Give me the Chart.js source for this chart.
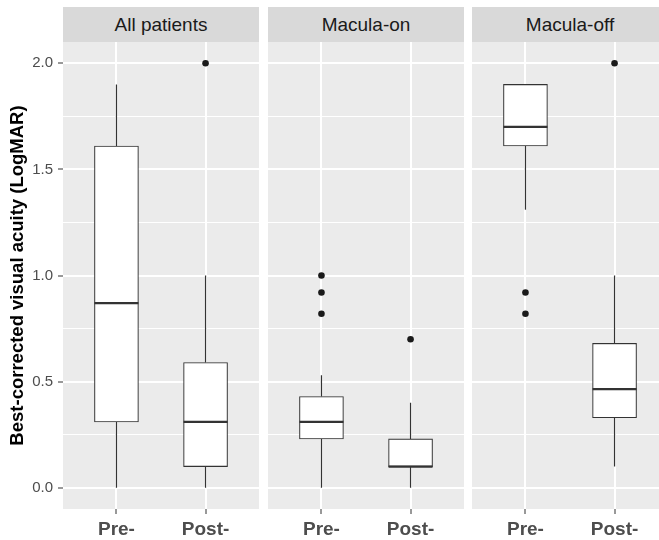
<!DOCTYPE html>
<html>
<head>
<meta charset="utf-8">
<script src="https://cdn.jsdelivr.net/npm/chart.js@4.4.1/dist/chart.umd.min.js"></script>
<style>
  html, body { margin: 0; padding: 0; overflow: hidden; }
  body { width: 659px; height: 540px; position: relative; background: #fff;
         font-family: "Liberation Sans", Arial, sans-serif; }
  .strip { position: absolute; top: 7px; height: 35px; width: 196px; background: #D9D9D9;
           color: #1A1A1A; font-size: 19px; line-height: 35px; text-align: center; }
  canvas { position: absolute; top: 42px; }
</style>
</head>
<body>
<div class="strip" id="strip0" style="left:63px"></div>
<div class="strip" id="strip1" style="left:268px"></div>
<div class="strip" id="strip2" style="left:472px"></div>
<canvas id="c0" width="259" height="498" style="left:0px"></canvas>
<canvas id="c1" width="196" height="498" style="left:268px"></canvas>
<canvas id="c2" width="196" height="498" style="left:472px"></canvas>
<script>
// facets and x categories
const panels = ['All patients', 'Macula-on', 'Macula-off'];
const timepoints = ['Pre-', 'Post-'];
const yLabelled = [0, 0.5, 1, 1.5, 2];

// box statistics, one row per panel, [Pre-, Post-]
const whiskerLow  = [[0, 0],       [0, 0],       [1.31, 0.10]];
const q1          = [[0.31, 0.10], [0.23, 0.10], [1.61, 0.33]];
const median      = [[0.87, 0.31], [0.31, 0.10], [1.70, 0.465]];
const q3          = [[1.61, 0.59], [0.43, 0.23], [1.90, 0.68]];
const whiskerHigh = [[1.90, 1.00], [0.53, 0.40], [1.90, 1.00]];
const outliers    = [[[], [2.0]], [[1.0, 0.92, 0.82], [0.70]], [[0.92, 0.82], [2.0]]];

const FONT = '"Liberation Sans", Arial, sans-serif';
Chart.defaults.font.family = FONT;

const boxLines = {
    id: 'boxLines',
    beforeDraw(chart) {
        const a = chart.chartArea;
        const c = chart.ctx;
        c.save();
        c.fillStyle = '#EBEBEB';
        c.fillRect(a.left, a.top, a.right - a.left, a.bottom - a.top);
        c.restore();
    },
    beforeDatasetsDraw(chart, args, opts) {
        const p = opts.panel;
        const y = chart.scales.y;
        const c = chart.ctx;
        const bars = chart.getDatasetMeta(0).data;
        c.save();
        c.strokeStyle = '#333333';
        c.lineWidth = 1.2;
        bars.forEach((bar, i) => {
            const x = bar.x;
            c.beginPath();
            c.moveTo(x, y.getPixelForValue(whiskerLow[p][i]));
            c.lineTo(x, y.getPixelForValue(q1[p][i]));
            c.moveTo(x, y.getPixelForValue(q3[p][i]));
            c.lineTo(x, y.getPixelForValue(whiskerHigh[p][i]));
            c.stroke();
        });
        c.restore();
    },
    afterDatasetsDraw(chart, args, opts) {
        const p = opts.panel;
        const y = chart.scales.y;
        const c = chart.ctx;
        const bars = chart.getDatasetMeta(0).data;
        c.save();
        c.strokeStyle = '#333333';
        c.lineWidth = 2.2;
        bars.forEach((bar, i) => {
            const yy = y.getPixelForValue(median[p][i]);
            c.beginPath();
            c.moveTo(bar.x - bar.width / 2, yy);
            c.lineTo(bar.x + bar.width / 2, yy);
            c.stroke();
        });
        c.restore();
    }
};

function makePanel(p) {
    const showY = p === 0;
    const points = [];
    outliers[p].forEach((vals, i) => vals.forEach(v => points.push({ x: i + 1, y: v })));

    document.getElementById('strip' + p).textContent = panels[p];

    new Chart(document.getElementById('c' + p), {
        type: 'bar',
        data: {
            datasets: [{
                type: 'bar',
                data: timepoints.map((t, i) => ({ x: i + 1, y: [q1[p][i], q3[p][i]] })),
                backgroundColor: '#FFFFFF',
                borderColor: '#333333',
                borderWidth: 1.1,
                borderSkipped: false,
                barThickness: 44,
                grouped: false
            }, {
                type: 'scatter',
                data: points,
                pointRadius: 3.3,
                pointBackgroundColor: '#1A1A1A',
                pointBorderWidth: 0,
                showLine: false
            }]
        },
        options: {
            responsive: false,
            animation: false,
            events: [],
            layout: { padding: 0, autoPadding: false },
            plugins: {
                legend: { display: false },
                tooltip: { enabled: false },
                boxLines: { panel: p }
            },
            scales: {
                x: {
                    type: 'linear',
                    min: 0.4,
                    max: 2.6,
                    offset: false,
                    border: { display: false },
                    grid: { offset: false, color: '#FFFFFF', lineWidth: 2, tickColor: '#333333', tickWidth: 1, tickLength: 5 },
                    ticks: {
                        stepSize: 1,
                        includeBounds: false,
                        autoSkip: false,
                        maxRotation: 0,
                        padding: 4,
                        color: '#4D4D4D',
                        font: { size: 19, weight: 'bold' },
                        callback: v => timepoints[v - 1] || ''
                    },
                    afterFit: s => { s.height = 31; s.paddingLeft = 0; s.paddingRight = 0; }
                },
                y: {
                    min: -0.1,
                    max: 2.1,
                    border: { display: false },
                    grid: {
                        color: '#FFFFFF',
                        lineWidth: ctx => yLabelled.includes(ctx.tick.value) ? 2 : 1,
                        drawTicks: showY,
                        tickLength: 5,
                        tickWidth: 1,
                        tickColor: ctx => yLabelled.includes(ctx.tick.value) ? '#333333' : 'rgba(0,0,0,0)'
                    },
                    ticks: {
                        display: showY,
                        stepSize: 0.25,
                        includeBounds: false,
                        padding: 5,
                        color: '#4D4D4D',
                        font: { size: 15 },
                        callback: v => yLabelled.includes(v) ? v.toFixed(1) : ''
                    },
                    title: {
                        display: showY,
                        text: 'Best-corrected visual acuity (LogMAR)',
                        color: '#000000',
                        font: { size: 18.5, weight: 'bold' },
                        padding: { top: 7, bottom: 0 }
                    },
                    afterFit: s => { s.width = showY ? 63 : 0; s.paddingTop = 0; s.paddingBottom = 0; }
                }
            }
        },
        plugins: [boxLines]
    });
}

panels.forEach((name, p) => makePanel(p));
</script>
</body>
</html>
